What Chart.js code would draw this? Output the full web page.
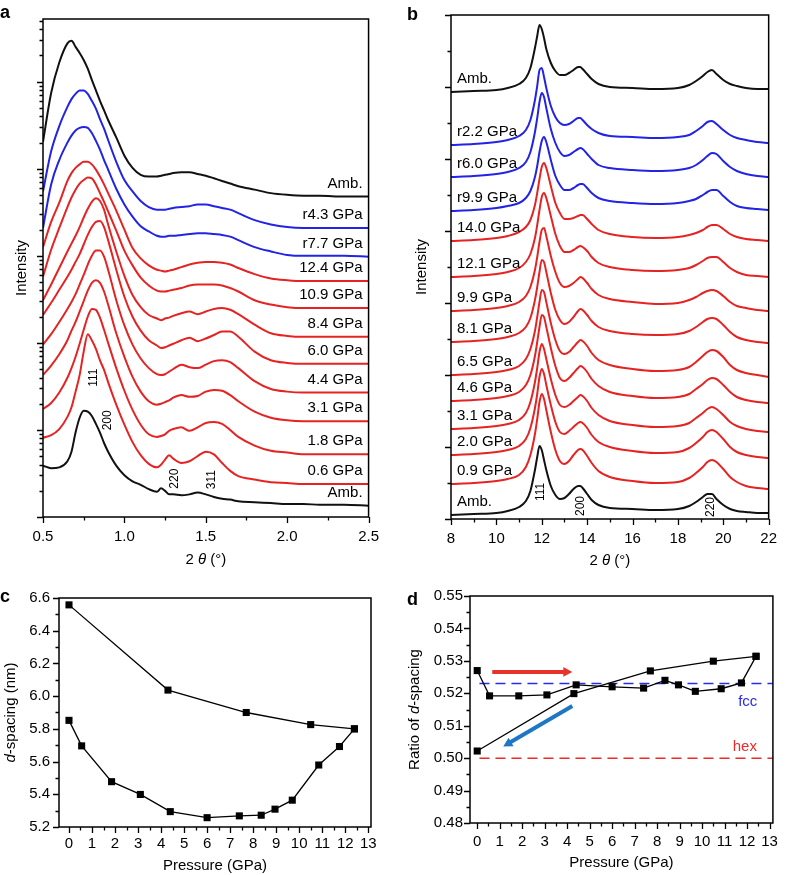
<!DOCTYPE html>
<html>
<head>
<meta charset="utf-8">
<script src="https://cdn.jsdelivr.net/npm/chart.js@4.4.1/dist/chart.umd.min.js"></script>
<style>
  body { margin: 0; background: #fff; }
  #page { position: relative; width: 788px; height: 875px; overflow: hidden; background: #fff; }
  canvas { position: absolute; }
  .tag { position: absolute; font: bold 18px/18px "Liberation Sans", Arial, sans-serif; color: #000; }
</style>
</head>
<body>
<div id="page">
  <canvas id="panelA" style="left:0;top:0" width="390" height="580"></canvas>
  <canvas id="panelB" style="left:394px;top:0" width="394" height="580"></canvas>
  <canvas id="panelC" style="left:0;top:580px" width="390" height="295"></canvas>
  <canvas id="panelD" style="left:394px;top:580px" width="394" height="295"></canvas>
  <div class="tag" style="left:0;top:3px">a</div>
  <div class="tag" style="left:407px;top:5px">b</div>
  <div class="tag" style="left:0;top:587px">c</div>
  <div class="tag" style="left:407px;top:590px">d</div>
</div>
<script>
const FONT = '"Liberation Sans", Arial, sans-serif';
const RED = "#e62323";
const BLUE = "#2323e6";
const BLACK = "#111111";

// Panel a: SAXS patterns, intensity in decades (log scale), 2θ in degrees
const aTwoTheta = [0.5, 0.55, 0.6, 0.65, 0.675, 0.7, 0.725, 0.75, 0.775, 0.8, 0.825, 0.85, 0.875, 0.9, 0.95, 1.0, 1.05, 1.1, 1.15, 1.2, 1.225, 1.25, 1.275, 1.3, 1.35, 1.4, 1.45, 1.5, 1.55, 1.6, 1.65, 1.7, 1.8, 1.9, 2.0, 2.1, 2.2, 2.35, 2.5];
const aAmbTop = [4.31, 4.87, 5.22, 5.44, 5.47, 5.40, 5.33, 5.25, 5.15, 5.02, 4.90, 4.78, 4.67, 4.56, 4.36, 4.15, 4.01, 3.93, 3.91, 3.91, 3.92, 3.93, 3.94, 3.95, 3.96, 3.96, 3.94, 3.92, 3.89, 3.86, 3.83, 3.80, 3.76, 3.72, 3.70, 3.69, 3.69, 3.68, 3.68];
const aR43 = [3.74, 4.20, 4.49, 4.71, 4.80, 4.86, 4.90, 4.90, 4.86, 4.78, 4.69, 4.57, 4.46, 4.33, 4.08, 3.87, 3.74, 3.63, 3.56, 3.53, 3.53, 3.53, 3.54, 3.55, 3.56, 3.57, 3.59, 3.59, 3.57, 3.55, 3.53, 3.49, 3.41, 3.36, 3.33, 3.32, 3.32, 3.32, 3.32];
const aR77 = [3.32, 3.82, 4.10, 4.30, 4.38, 4.44, 4.47, 4.48, 4.47, 4.41, 4.32, 4.22, 4.10, 3.99, 3.77, 3.59, 3.45, 3.34, 3.28, 3.23, 3.22, 3.22, 3.23, 3.23, 3.24, 3.25, 3.26, 3.26, 3.25, 3.24, 3.22, 3.18, 3.10, 3.05, 3.01, 3.00, 3.00, 3.00, 2.99];
const aP124 = [3.10, 3.39, 3.61, 3.86, 3.95, 4.01, 4.05, 4.08, 4.08, 4.05, 3.99, 3.91, 3.82, 3.72, 3.52, 3.30, 3.09, 2.97, 2.89, 2.84, 2.83, 2.82, 2.83, 2.84, 2.87, 2.90, 2.92, 2.93, 2.93, 2.92, 2.90, 2.86, 2.79, 2.74, 2.72, 2.71, 2.71, 2.71, 2.71];
const aP109 = [2.76, 3.07, 3.32, 3.56, 3.67, 3.76, 3.83, 3.87, 3.90, 3.89, 3.82, 3.72, 3.62, 3.51, 3.29, 3.06, 2.89, 2.75, 2.66, 2.60, 2.59, 2.59, 2.60, 2.61, 2.63, 2.66, 2.67, 2.67, 2.67, 2.66, 2.63, 2.59, 2.49, 2.44, 2.41, 2.40, 2.40, 2.40, 2.40];
const aP84 = [2.49, 2.67, 2.86, 3.05, 3.14, 3.23, 3.33, 3.44, 3.54, 3.62, 3.66, 3.63, 3.53, 3.36, 3.05, 2.77, 2.55, 2.41, 2.32, 2.28, 2.26, 2.28, 2.29, 2.31, 2.34, 2.36, 2.33, 2.36, 2.39, 2.40, 2.38, 2.33, 2.21, 2.11, 2.08, 2.07, 2.07, 2.07, 2.07];
const aP60 = [2.32, 2.46, 2.61, 2.76, 2.84, 2.93, 3.02, 3.13, 3.24, 3.33, 3.39, 3.40, 3.33, 3.18, 2.84, 2.53, 2.30, 2.14, 2.03, 1.97, 1.94, 1.95, 1.97, 1.99, 2.03, 2.06, 2.02, 2.05, 2.09, 2.13, 2.13, 2.07, 1.90, 1.80, 1.77, 1.76, 1.76, 1.76, 1.76];
const aP44 = [1.98, 2.10, 2.24, 2.39, 2.47, 2.56, 2.67, 2.78, 2.90, 3.00, 3.06, 3.06, 2.99, 2.84, 2.49, 2.20, 1.98, 1.82, 1.71, 1.64, 1.63, 1.64, 1.67, 1.70, 1.75, 1.72, 1.71, 1.75, 1.79, 1.80, 1.78, 1.71, 1.56, 1.47, 1.44, 1.43, 1.43, 1.43, 1.43];
const aP31 = [1.63, 1.74, 1.87, 2.03, 2.14, 2.24, 2.36, 2.48, 2.60, 2.69, 2.72, 2.69, 2.59, 2.44, 2.11, 1.84, 1.61, 1.44, 1.33, 1.29, 1.30, 1.32, 1.34, 1.37, 1.40, 1.38, 1.39, 1.44, 1.46, 1.45, 1.40, 1.33, 1.21, 1.14, 1.11, 1.10, 1.10, 1.10, 1.10];
const aP18 = [1.24, 1.31, 1.43, 1.60, 1.71, 1.84, 1.99, 2.15, 2.30, 2.39, 2.38, 2.29, 2.15, 2.00, 1.71, 1.45, 1.23, 1.06, 0.95, 0.92, 0.93, 0.95, 0.99, 1.01, 1.03, 0.99, 1.03, 1.08, 1.09, 1.07, 1.00, 0.92, 0.82, 0.76, 0.74, 0.72, 0.72, 0.72, 0.72];
const aP06 = [0.91, 0.94, 1.01, 1.15, 1.26, 1.44, 1.63, 1.90, 2.10, 2.03, 1.93, 1.80, 1.69, 1.55, 1.29, 1.06, 0.86, 0.71, 0.61, 0.57, 0.60, 0.66, 0.71, 0.67, 0.62, 0.64, 0.70, 0.75, 0.72, 0.62, 0.53, 0.47, 0.43, 0.40, 0.39, 0.38, 0.38, 0.38, 0.38];
const aAmbBottom = [0.59, 0.56, 0.57, 0.64, 0.75, 0.97, 1.14, 1.22, 1.21, 1.16, 1.07, 0.97, 0.85, 0.75, 0.59, 0.48, 0.41, 0.37, 0.32, 0.29, 0.33, 0.30, 0.26, 0.26, 0.25, 0.26, 0.28, 0.26, 0.23, 0.21, 0.20, 0.18, 0.17, 0.16, 0.15, 0.15, 0.14, 0.14, 0.13];
const aNames = ["Amb.", "r4.3 GPa", "r7.7 GPa", "12.4 GPa", "10.9 GPa", "8.4 GPa", "6.0 GPa", "4.4 GPa", "3.1 GPa", "1.8 GPa", "0.6 GPa", "Amb."];
const aPeakNames = ["111", "200", "220", "311"];
const aPeakTwoTheta = [0.81, 0.90, 1.31, 1.535];
const aPeakLevel = [1.60, 1.11, 0.44, 0.43];
const aXTicks = [0.5, 1.0, 1.5, 2.0, 2.5];

// Panel b: WAXS patterns, stacked intensity (a.u.), 2θ in degrees
const bTwoTheta = [8, 9, 10, 10.5, 11, 11.3, 11.5, 11.7, 11.8, 11.9, 12.0, 12.1, 12.2, 12.4, 12.6, 12.8, 13.0, 13.2, 13.4, 13.6, 13.7, 13.8, 14.0, 14.2, 14.5, 15, 16, 17, 18, 18.5, 18.8, 19.1, 19.3, 19.5, 19.7, 20.0, 20.3, 20.6, 21, 21.5, 22];
const bAmbTop = [427, 428, 429, 431, 435, 441, 451, 471, 483, 494, 490, 481, 470, 456, 448, 444, 444, 446, 449, 452, 452, 450, 445, 440, 435, 432, 431, 430, 431, 434, 438, 443, 447, 449, 445, 439, 435, 433, 431, 430, 430];
const bR22 = [374, 375, 377, 379, 383, 389, 399, 419, 433, 449, 451, 442, 431, 413, 402, 396, 394, 395, 398, 401, 401, 399, 394, 390, 386, 383, 382, 381, 382, 384, 388, 393, 397, 398, 395, 389, 384, 381, 379, 377, 376];
const bR60 = [342, 343, 345, 347, 351, 357, 367, 387, 401, 417, 426, 422, 411, 390, 376, 367, 363, 364, 367, 370, 371, 370, 365, 360, 354, 351, 349, 348, 349, 351, 354, 359, 363, 366, 365, 358, 352, 348, 345, 343, 342];
const bR99 = [308, 309, 311, 313, 316, 321, 328, 342, 353, 367, 378, 382, 377, 359, 343, 334, 329, 329, 331, 334, 335, 335, 331, 326, 321, 318, 316, 315, 316, 318, 320, 324, 327, 329, 329, 323, 317, 313, 311, 310, 309];
const bP140 = [278, 279, 281, 283, 287, 292, 299, 314, 326, 340, 352, 356, 351, 333, 316, 306, 300, 300, 301, 303, 304, 304, 300, 295, 289, 285, 282, 281, 282, 284, 286, 289, 292, 294, 294, 290, 285, 282, 280, 279, 278];
const bP121 = [242, 243, 245, 247, 251, 257, 265, 281, 294, 309, 322, 326, 321, 303, 285, 273, 267, 267, 269, 272, 273, 272, 268, 262, 256, 252, 249, 248, 249, 251, 254, 258, 261, 262, 262, 257, 251, 247, 244, 243, 242];
const bP99 = [208, 209, 211, 213, 217, 223, 232, 249, 262, 277, 289, 291, 283, 263, 247, 236, 232, 233, 236, 240, 242, 241, 236, 230, 224, 220, 217, 215, 216, 219, 222, 226, 228, 229, 228, 223, 217, 213, 211, 209, 208];
const bP81 = [177, 178, 180, 182, 186, 192, 201, 219, 232, 247, 259, 257, 247, 226, 209, 199, 195, 197, 202, 208, 210, 209, 204, 198, 192, 188, 185, 184, 185, 188, 192, 197, 200, 201, 200, 194, 187, 182, 179, 177, 176];
const bP65 = [144, 145, 147, 149, 153, 160, 170, 188, 202, 217, 229, 227, 217, 196, 179, 168, 165, 167, 172, 177, 179, 178, 173, 166, 159, 154, 150, 148, 149, 152, 157, 163, 167, 169, 168, 162, 154, 149, 146, 144, 142];
const bP46 = [118, 119, 121, 123, 127, 134, 144, 163, 177, 192, 204, 202, 192, 171, 153, 141, 138, 141, 146, 151, 153, 152, 147, 140, 133, 127, 123, 121, 122, 125, 130, 135, 139, 141, 140, 134, 127, 122, 119, 117, 116];
const bP31 = [90, 91, 93, 95, 99, 106, 117, 137, 151, 167, 175, 170, 160, 140, 124, 114, 112, 114, 118, 122, 124, 123, 118, 111, 104, 98, 94, 92, 93, 96, 101, 106, 110, 112, 110, 104, 97, 93, 90, 88, 87];
const bP20 = [64, 65, 67, 69, 73, 80, 91, 111, 125, 142, 150, 145, 134, 114, 97, 87, 85, 88, 92, 96, 97, 96, 91, 84, 77, 72, 68, 66, 67, 71, 76, 82, 87, 89, 87, 80, 72, 67, 64, 62, 61];
const bP09 = [35, 36, 38, 40, 44, 52, 64, 85, 100, 117, 125, 120, 109, 87, 69, 58, 55, 58, 64, 69, 70, 69, 63, 56, 48, 42, 38, 36, 37, 41, 46, 52, 57, 59, 57, 50, 42, 37, 33, 31, 30];
const bAmbBottom = [4, 5, 6, 8, 12, 18, 28, 49, 62, 73, 69, 59, 49, 33, 24, 20, 21, 25, 30, 33, 33, 31, 25, 19, 14, 11, 10, 9, 10, 13, 17, 22, 25, 25, 20, 14, 10, 8, 7, 6, 6];
const bNames = ["Amb.", "r2.2 GPa", "r6.0 GPa", "r9.9 GPa", "14.0 GPa", "12.1 GPa", "9.9 GPa", "8.1 GPa", "6.5 GPa", "4.6 GPa", "3.1 GPa", "2.0 GPa", "0.9 GPa", "Amb."];
const bPeakNames = ["111", "200", "220"];
const bPeakTwoTheta = [11.95, 13.72, 19.44];
const bPeakLevel = [27, 13, 12];
const bXTicks = [8, 10, 12, 14, 16, 18, 20, 22];

// Panels c and d: compression and decompression runs
const compressionP = [0, 0.55, 1.85, 3.1, 4.4, 6.0, 7.4, 8.35, 8.95, 9.7, 10.85, 11.75, 12.4];
const decompressionP = [12.4, 10.5, 7.7, 4.3, 0];
const cCompD = [5.852, 5.696, 5.477, 5.399, 5.294, 5.257, 5.268, 5.272, 5.309, 5.364, 5.579, 5.692, 5.80];
const cDecompD = [5.80, 5.826, 5.90, 6.037, 6.558];
const dCompRatio = [0.5270, 0.5192, 0.5192, 0.5195, 0.5226, 0.5220, 0.5216, 0.5240, 0.5226, 0.5206, 0.5214, 0.5232, 0.5314];
const dDecompRatio = [0.5314, 0.5299, 0.5269, 0.5199, 0.5022];
const fccRatio = 0.523;
const hexRatio = 0.500;
const pressureTicks = [0, 1, 2, 3, 4, 5, 6, 7, 8, 9, 10, 11, 12, 13];

function range(from, to, step) {
  const out = [];
  for (let v = from; v <= to + 1e-9; v += step) out.push(+v.toFixed(6));
  return out;
}

function drawSegs(ctx, segs, cx, cy, size) {
  let w = 0;
  segs.forEach(s => {
    ctx.font = (s.i ? "italic " : "") + size + "px " + FONT;
    w += ctx.measureText(s.t).width;
  });
  let x = cx - w / 2;
  ctx.textAlign = "left";
  ctx.textBaseline = "middle";
  segs.forEach(s => {
    ctx.font = (s.i ? "italic " : "") + size + "px " + FONT;
    ctx.fillText(s.t, x, cy);
    x += ctx.measureText(s.t).width;
  });
}

function drawArrow(ctx, x1, y1, x2, y2, color, width, head) {
  const ang = Math.atan2(y2 - y1, x2 - x1);
  const c = Math.cos(ang), s = Math.sin(ang);
  ctx.strokeStyle = color;
  ctx.fillStyle = color;
  ctx.lineWidth = width;
  ctx.beginPath();
  ctx.moveTo(x1, y1);
  ctx.lineTo(x2 - c * head * 0.8, y2 - s * head * 0.8);
  ctx.stroke();
  ctx.beginPath();
  ctx.moveTo(x2, y2);
  ctx.lineTo(x2 - head * c + head * 0.55 * s, y2 - head * s - head * 0.55 * c);
  ctx.lineTo(x2 - head * c - head * 0.55 * s, y2 - head * s + head * 0.55 * c);
  ctx.closePath();
  ctx.fill();
}

// box + outward tick marks (major and minor)
const frame = {
  id: "frame",
  afterDatasetsDraw(chart, args, o) {
    const { ctx, chartArea: a, scales } = chart;
    ctx.save();
    ctx.strokeStyle = "#000";
    ctx.lineWidth = 1.3;
    ctx.beginPath();
    const tick = (axis, values, len) => values.forEach(v => {
      if (axis === "x") {
        const px = Math.round(scales.x.getPixelForValue(v)) + 0.5;
        ctx.moveTo(px, a.bottom);
        ctx.lineTo(px, a.bottom + len);
      } else {
        const py = Math.round(scales.y.getPixelForValue(v)) + 0.5;
        ctx.moveTo(a.left, py);
        ctx.lineTo(a.left - len, py);
      }
    });
    tick("x", o.xMajor, o.major);
    tick("x", o.xMinor, o.minor);
    tick("y", o.yMajor, o.major);
    tick("y", o.yMinor, o.minor);
    ctx.stroke();
    ctx.lineWidth = 1.5;
    ctx.strokeRect(a.left, a.top, a.right - a.left, a.bottom - a.top);
    ctx.restore();
  }
};

// text labels, arrows and axis titles
const notes = {
  id: "notes",
  afterDatasetsDraw(chart, args, o) {
    const { ctx, chartArea: a, scales } = chart;
    ctx.save();
    (o.texts || []).forEach(t => {
      ctx.save();
      ctx.translate(scales.x.getPixelForValue(t.x) + (t.dx || 0), scales.y.getPixelForValue(t.y) + (t.dy || 0));
      if (t.rotate) ctx.rotate(t.rotate);
      ctx.font = (t.size || 15) + "px " + FONT;
      ctx.fillStyle = t.color || "#000";
      ctx.textAlign = t.align || "center";
      ctx.textBaseline = "middle";
      ctx.fillText(t.text, 0, 0);
      ctx.restore();
    });
    (o.arrows || []).forEach(r => {
      drawArrow(ctx, scales.x.getPixelForValue(r.from[0]), scales.y.getPixelForValue(r.from[1]),
        scales.x.getPixelForValue(r.to[0]), scales.y.getPixelForValue(r.to[1]), r.color, 4, 9);
    });
    ctx.fillStyle = "#000";
    drawSegs(ctx, o.xTitle, (a.left + a.right) / 2, a.bottom + o.xGap, 15);
    ctx.translate(a.left - o.yGap, (a.top + a.bottom) / 2);
    ctx.rotate(-Math.PI / 2);
    drawSegs(ctx, o.yTitle, 0, 0, 15);
    ctx.restore();
  }
};

function makeChart(id, p) {
  return new Chart(document.getElementById(id), {
    type: "line",
    data: { datasets: p.datasets },
    plugins: [frame, notes],
    options: {
      responsive: false,
      animation: false,
      devicePixelRatio: 1,
      layout: { padding: { top: p.padTop, right: p.padRight, left: 0, bottom: 0 } },
      plugins: {
        legend: { display: false },
        tooltip: { enabled: false },
        frame: { xMajor: p.xMajor, xMinor: p.xMinor, yMajor: p.yMajor, yMinor: p.yMinor, major: 6, minor: 3.5 },
        notes: { texts: p.texts, arrows: p.arrows, xTitle: p.xTitle, yTitle: p.yTitle, xGap: p.xGap, yGap: p.yGap }
      },
      scales: {
        x: {
          type: "linear", min: p.xMin, max: p.xMax,
          grid: { display: false, drawTicks: false }, border: { display: false },
          ticks: { font: { family: FONT, size: 15 }, color: "#000", padding: p.xPad, maxRotation: 0, autoSkip: false, callback: p.xFmt },
          afterBuildTicks: s => { s.ticks = p.xMajor.map(v => ({ value: v })); },
          afterFit: s => { s.height = p.xHeight; }
        },
        y: {
          type: "linear", min: p.yMin, max: p.yMax,
          grid: { display: false, drawTicks: false }, border: { display: false },
          ticks: { display: !!p.yFmt, font: { family: FONT, size: 15 }, color: "#000", padding: p.yPad || 0, autoSkip: false, callback: p.yFmt || (() => "") },
          afterBuildTicks: s => { s.ticks = p.yMajor.map(v => ({ value: v })); },
          afterFit: s => { s.width = p.yWidth; }
        }
      }
    }
  });
}

function curveSets(xs, curves, colors) {
  return curves.map((ys, i) => ({
    data: ys.map((y, j) => ({ x: xs[j], y: y })),
    borderColor: colors[i],
    borderWidth: 2,
    pointRadius: 0,
    cubicInterpolationMode: "monotone",
    fill: false
  }));
}

function pointSet(xs, ys) {
  return {
    data: xs.map((x, i) => ({ x: x, y: ys[i] })),
    borderColor: "#000", borderWidth: 1.3, tension: 0,
    pointStyle: "rect", pointRadius: 5, pointBackgroundColor: "#000", pointBorderColor: "#000", pointBorderWidth: 0
  };
}

// ---- panel a
const aCurves = [aAmbTop, aR43, aR77, aP124, aP109, aP84, aP60, aP44, aP31, aP18, aP06, aAmbBottom];
const aColors = [BLACK, BLUE, BLUE, RED, RED, RED, RED, RED, RED, RED, RED, BLACK];
const aTexts = aNames.map((n, i) => ({ text: n, x: 2.5, y: aCurves[i][aCurves[i].length - 1], dx: -6, dy: -13, align: "right" }))
  .concat(aPeakNames.map((n, i) => ({ text: n, x: aPeakTwoTheta[i], y: aPeakLevel[i], rotate: -Math.PI / 2, size: 12 })));
const logMinor = [];
for (let n = 0; n <= 5; n++) for (let k = 2; k <= 9; k++) if (n + Math.log10(k) < 5.72) logMinor.push(n + Math.log10(k));

makeChart("panelA", {
  datasets: curveSets(aTwoTheta, aCurves, aColors),
  xMin: 0.5, xMax: 2.5, yMin: 0, yMax: 5.72,
  xMajor: aXTicks, xMinor: range(0.75, 2.25, 0.5), yMajor: [0, 1, 2, 3, 4, 5], yMinor: logMinor,
  xFmt: v => v.toFixed(1), xPad: 11,
  padTop: 19, padRight: 18, xHeight: 63, yWidth: 43,
  texts: aTexts, xTitle: [{ t: "2 " }, { t: "θ", i: true }, { t: " (°)" }], yTitle: [{ t: "Intensity" }], xGap: 43, yGap: 21
});

// ---- panel b
const bCurves = [bAmbTop, bR22, bR60, bR99, bP140, bP121, bP99, bP81, bP65, bP46, bP31, bP20, bP09, bAmbBottom];
const bColors = [BLACK, BLUE, BLUE, BLUE, RED, RED, RED, RED, RED, RED, RED, RED, RED, BLACK];
const bTexts = bNames.map((n, i) => ({ text: n, x: 8, y: bCurves[i][0], dx: 6, dy: -13, align: "left" }))
  .concat(bPeakNames.map((n, i) => ({ text: n, x: bPeakTwoTheta[i], y: bPeakLevel[i], rotate: -Math.PI / 2, size: 12 })));

makeChart("panelB", {
  datasets: curveSets(bTwoTheta, bCurves, bColors),
  xMin: 8, xMax: 22, yMin: 0, yMax: 504,
  xMajor: bXTicks, xMinor: range(9, 21, 2), yMajor: range(0, 504, 72), yMinor: range(36, 504, 72),
  xFmt: v => String(v), xPad: 11,
  padTop: 15, padRight: 9, xHeight: 61, yWidth: 57,
  texts: bTexts, xTitle: [{ t: "2 " }, { t: "θ", i: true }, { t: " (°)" }], yTitle: [{ t: "Intensity" }], xGap: 42, yGap: 29
});

// ---- panel c
makeChart("panelC", {
  datasets: [pointSet(compressionP, cCompD), pointSet(decompressionP, cDecompD)],
  xMin: -0.434, xMax: 13.12, yMin: 5.2, yMax: 6.6,
  xMajor: pressureTicks, xMinor: range(0.5, 12.5, 1), yMajor: range(5.2, 6.6, 0.2), yMinor: range(5.3, 6.5, 0.2),
  xFmt: v => String(v), yFmt: v => v.toFixed(1), xPad: 8, yPad: 9,
  padTop: 17, padRight: 19, xHeight: 48, yWidth: 59,
  texts: [], xTitle: [{ t: "Pressure (GPa)" }], yTitle: [{ t: "d", i: true }, { t: "-spacing (nm)" }], xGap: 39, yGap: 48
});

// ---- panel d
makeChart("panelD", {
  datasets: [
    pointSet(compressionP, dCompRatio),
    pointSet(decompressionP, dDecompRatio),
    { data: [{ x: 0.1, y: fccRatio }, { x: 13.15, y: fccRatio }], borderColor: "#2a2aee", borderWidth: 1.5, borderDash: [10, 6], pointRadius: 0 },
    { data: [{ x: 0.1, y: hexRatio }, { x: 13.15, y: hexRatio }], borderColor: "#ee2a2a", borderWidth: 1.5, borderDash: [10, 6], pointRadius: 0 }
  ],
  xMin: -0.32, xMax: 13.15, yMin: 0.48, yMax: 0.55,
  xMajor: pressureTicks, xMinor: range(0.5, 12.5, 1), yMajor: range(0.48, 0.55, 0.01), yMinor: range(0.485, 0.545, 0.01),
  xFmt: v => String(v), yFmt: v => v.toFixed(2), xPad: 10, yPad: 7,
  padTop: 16, padRight: 11, xHeight: 52, yWidth: 76,
  texts: [
    { text: "fcc", x: 12.03, y: 0.5174, color: "#2a2aee" },
    { text: "hex", x: 11.9, y: 0.5036, color: "#ee2a2a" }
  ],
  arrows: [
    { from: [0.67, 0.5266], to: [4.23, 0.5266], color: "#e8322a" },
    { from: [4.23, 0.5161], to: [1.16, 0.5036], color: "#1f77c4" }
  ],
  xTitle: [{ t: "Pressure (GPa)" }], yTitle: [{ t: "Ratio of " }, { t: "d", i: true }, { t: "-spacing" }], xGap: 40, yGap: 55
});
</script>
</body>
</html>
